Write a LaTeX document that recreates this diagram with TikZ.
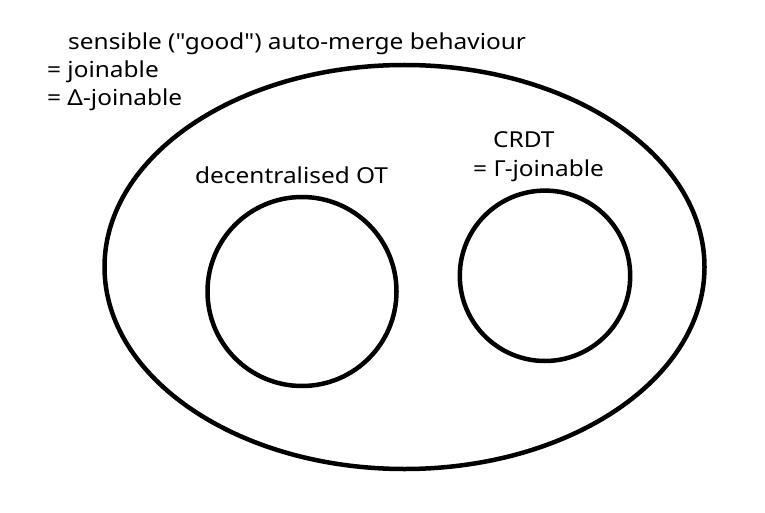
\documentclass[tikz,border=0pt]{standalone}
\usepackage{fontspec}
\setmainfont{Noto Sans}[FakeStretch=1.11,Ligatures=TeXOff]
\begin{document}
\begin{tikzpicture}[x=1pt,y=-1pt,
  shape line/.style={line width=4.5pt},
  lbl/.style={anchor=base west,inner sep=0pt,font=\fontsize{22}{26}\selectfont}]
\useasboundingbox (0,0) rectangle (765,513);
\draw[shape line] (404.5,267) ellipse [x radius=300, y radius=202];
\draw[shape line] (302,291.5) circle [radius=94.5];
\draw[shape line] (545,275.8) circle [radius=85.2];
\node[lbl] (t1) at (68,50) {sensible ("good") auto-merge behaviour};
\node[lbl] (t2) at (47,78) {= joinable};
\node[lbl] (t3) at (47,106) {= Δ-joinable};
\node[lbl] (t4) at (195,183) {decentralised OT};
\node[lbl] (t5) at (493,148) {CRDT};
\node[lbl] (t6) at (473,177) {= Γ-joinable};
\end{tikzpicture}
\end{document}
